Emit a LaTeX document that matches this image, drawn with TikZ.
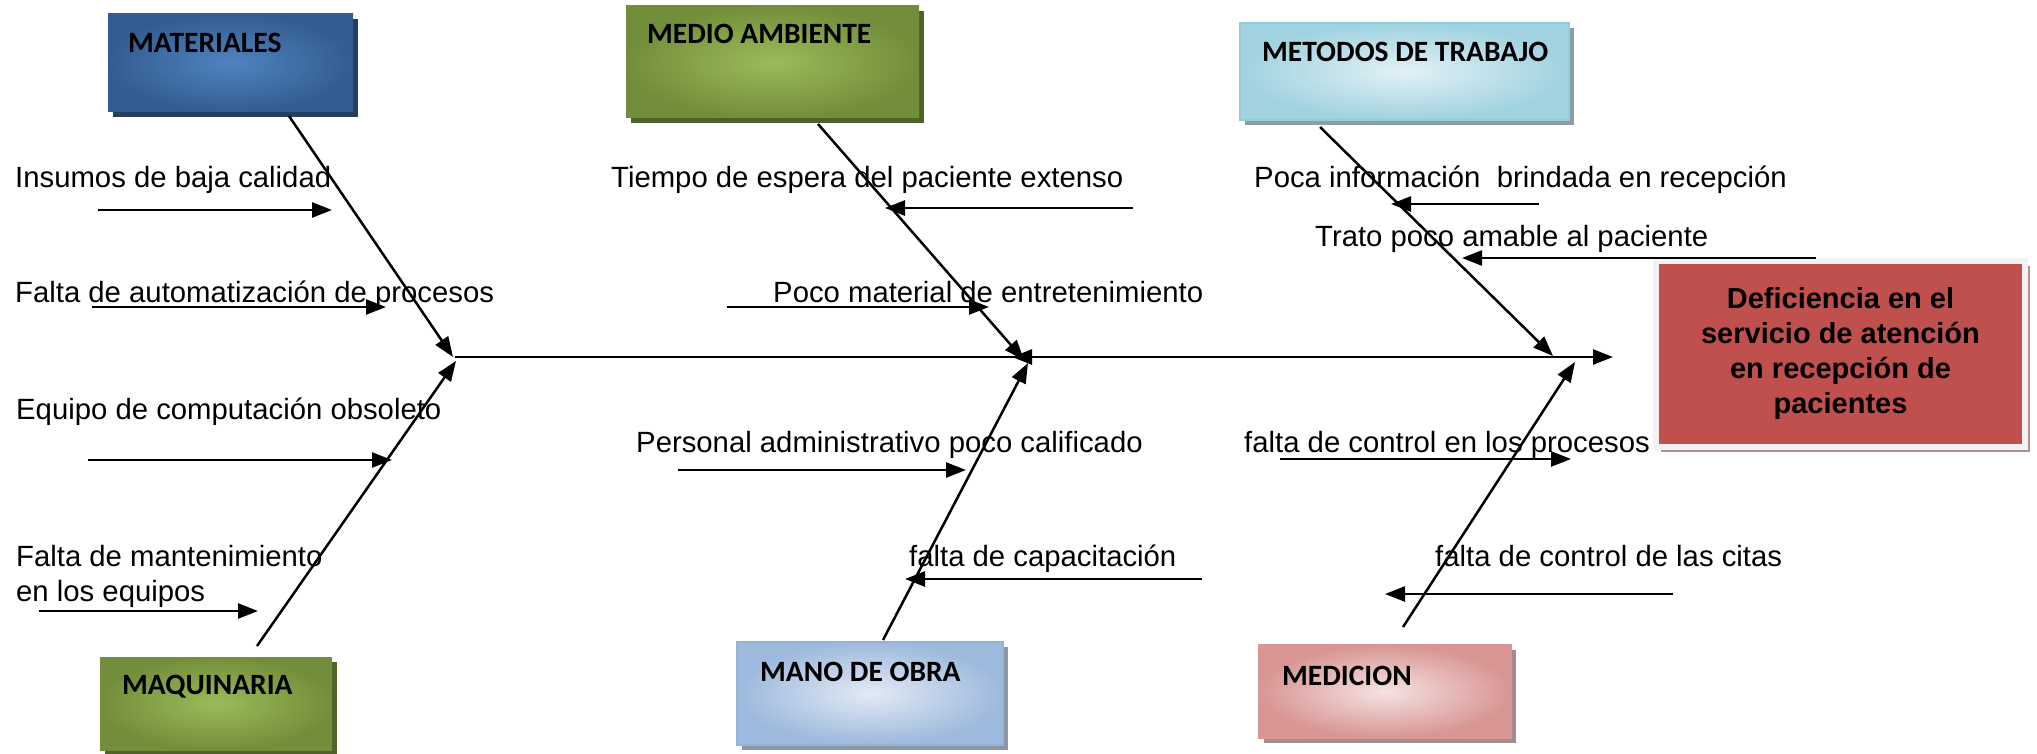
\documentclass[tikz,border=0pt]{standalone}
\usepackage{fontspec}
\setmainfont{Liberation Sans}
\newfontfamily\boxfont{Carlito}
\usetikzlibrary{arrows.meta,shadows,calc}
\definecolor{bluedk}{HTML}{335D90}
\definecolor{bluelt}{HTML}{4F83C0}
\definecolor{blueshd}{HTML}{243F60}
\definecolor{grndk}{HTML}{738E3A}
\definecolor{grnlt}{HTML}{9BBB59}
\definecolor{grnshd}{HTML}{4F6228}
\definecolor{aqdk}{HTML}{A0D2E0}
\definecolor{aqlt}{HTML}{E2F1F5}
\definecolor{aqbd}{HTML}{93CDDD}
\definecolor{aqshd}{HTML}{8C9EA4}
\definecolor{pbdk}{HTML}{9DB9DD}
\definecolor{pblt}{HTML}{E2EAF4}
\definecolor{pbbd}{HTML}{95B3D7}
\definecolor{pbshd}{HTML}{8C96A6}
\definecolor{pkdk}{HTML}{D89593}
\definecolor{pklt}{HTML}{F5E3E2}
\definecolor{pkbd}{HTML}{D99694}
\definecolor{pkshd}{HTML}{A48C8C}
\definecolor{redm}{HTML}{C0504D}
\definecolor{redshd}{HTML}{B09090}
\definecolor{frm}{HTML}{F2F2F2}
\begin{document}
\begin{tikzpicture}[x=1pt,y=-1pt,
  lbl/.style={anchor=base west, inner sep=0pt, font=\fontsize{29.3}{35}\selectfont},
  ttl/.style={anchor=base west, inner sep=0pt, font=\boxfont\bfseries\fontsize{29.5}{34}\selectfont},
  arr/.style={line width=2.5pt, -{Triangle[length=20pt,width=15pt]}},
  catbox/.style={rectangle, inner sep=0pt},
  darkbox/.style 2 args={catbox, inner color=#2, outer color=#1},
  lightbox/.style n args={3}{catbox, draw=#3, line width=2pt, inner color=#2, outer color=#1},
  shd/.style={general shadow={fill=#1, shadow xshift=5pt, shadow yshift=-5pt}}
]
\useasboundingbox (0,0) rectangle (2037,754);
% category boxes
\node[darkbox={bluedk}{bluelt}, shd=blueshd, minimum width=245pt, minimum height=98pt] (mat) at (230.5,63) {};
\node[ttl] at (128,53) {MATERIALES};
\node[darkbox={grndk}{grnlt}, shd=grnshd, minimum width=293pt, minimum height=112pt] (med) at (772.5,62) {};
\node[ttl] at (647,44) {MEDIO AMBIENTE};
\node[lightbox={aqdk}{aqlt}{aqbd}, shd=aqshd, minimum width=329pt, minimum height=97pt] (met) at (1404.5,71.5) {};
\node[ttl] at (1262,62) {METODOS DE TRABAJO};
\node[darkbox={grndk}{grnlt}, shd=grnshd, minimum width=232pt, minimum height=93pt] (maq) at (216,703.5) {};
\node[ttl] at (122,694) {MAQUINARIA};
\node[lightbox={pbdk}{pblt}{pbbd}, shd=pbshd, minimum width=266pt, minimum height=103pt] (man) at (870,693.5) {};
\node[ttl] at (760,681) {MANO DE OBRA};
\node[lightbox={pkdk}{pklt}{pkbd}, shd=pkshd, minimum width=252pt, minimum height=93pt] (mdc) at (1385,691.5) {};
\node[ttl] at (1282,685) {MEDICION};
% effect box
\node[rectangle, fill=redm, draw=frm, line width=6pt, shd=redshd, minimum width=369pt, minimum height=186pt,
  align=center, font=\bfseries\fontsize{29}{35}\selectfont] (eff) at (1840.5,353.5)
  {Deficiencia en el\\servicio de atención\\en recepción de\\pacientes};
% spine
\coordinate (s0) at (455,357);
\coordinate (s1) at (1613,357);
\coordinate (m0) at (1042,357);
\coordinate (m1) at (1012,357);
\draw[arr] (s0) -- (s1);
\draw[arr] (m0) -- (m1);
% bones
\coordinate (b1a) at (289,116); \coordinate (b1b) at (453,357);
\coordinate (b2a) at (257,646); \coordinate (b2b) at (456,361);
\coordinate (b3a) at (818,124); \coordinate (b3b) at (1024,360);
\coordinate (b4a) at (883,640); \coordinate (b4b) at (1028,363);
\coordinate (b5a) at (1320,127); \coordinate (b5b) at (1553,356);
\coordinate (b6a) at (1403,627); \coordinate (b6b) at (1575,362);
\draw[arr] (b1a) -- (b1b);
\draw[arr] (b2a) -- (b2b);
\draw[arr] (b3a) -- (b3b);
\draw[arr] (b4a) -- (b4b);
\draw[arr] (b5a) -- (b5b);
\draw[arr] (b6a) -- (b6b);
% causes
\node[lbl] (t1) at (15,188) {Insumos de baja calidad};
\coordinate (a1a) at (98,210); \coordinate (a1b) at (332,210);
\draw[arr] (a1a) -- (a1b);
\node[lbl] (t2) at (15,302) {Falta de automatización de procesos};
\coordinate (a2a) at (92,307); \coordinate (a2b) at (386,307);
\draw[arr] (a2a) -- (a2b);
\node[lbl] (t3) at (16,419) {Equipo de computación obsoleto};
\coordinate (a3a) at (88,460); \coordinate (a3b) at (392,460);
\draw[arr] (a3a) -- (a3b);
\node[lbl] (t4) at (16,566) {Falta de mantenimiento};
\node[lbl] (t4b) at (16,601) {en los equipos};
\coordinate (a4a) at (39,611); \coordinate (a4b) at (258,611);
\draw[arr] (a4a) -- (a4b);
\node[lbl] (t5) at (611,188) {Tiempo de espera del paciente extenso};
\coordinate (a5a) at (1133,208); \coordinate (a5b) at (885,208);
\draw[arr] (a5a) -- (a5b);
\node[lbl] (t6) at (773,302) {Poco material de entretenimiento};
\coordinate (a6a) at (727,307); \coordinate (a6b) at (989,307);
\draw[arr] (a6a) -- (a6b);
\node[lbl] (t7) at (636,452) {Personal administrativo poco calificado};
\coordinate (a7a) at (678,470); \coordinate (a7b) at (966,470);
\draw[arr] (a7a) -- (a7b);
\node[lbl] (t8) at (909,566) {falta de capacitación};
\coordinate (a8a) at (1202,579); \coordinate (a8b) at (905,579);
\draw[arr] (a8a) -- (a8b);
\node[lbl] (t9) at (1254,188) {Poca información\ \ brindada en recepción};
\coordinate (a9a) at (1539,204); \coordinate (a9b) at (1391,204);
\draw[arr] (a9a) -- (a9b);
\node[lbl] (t10) at (1315,246) {Trato poco amable al paciente};
\coordinate (a10a) at (1816,258); \coordinate (a10b) at (1462,258);
\draw[arr] (a10a) -- (a10b);
\node[lbl] (t11) at (1244,452) {falta de control en los procesos};
\coordinate (a11a) at (1280,459); \coordinate (a11b) at (1571,459);
\draw[arr] (a11a) -- (a11b);
\node[lbl] (t12) at (1435,566) {falta de control de las citas};
\coordinate (a12a) at (1673,594); \coordinate (a12b) at (1385,594);
\draw[arr] (a12a) -- (a12b);
\end{tikzpicture}
\end{document}
